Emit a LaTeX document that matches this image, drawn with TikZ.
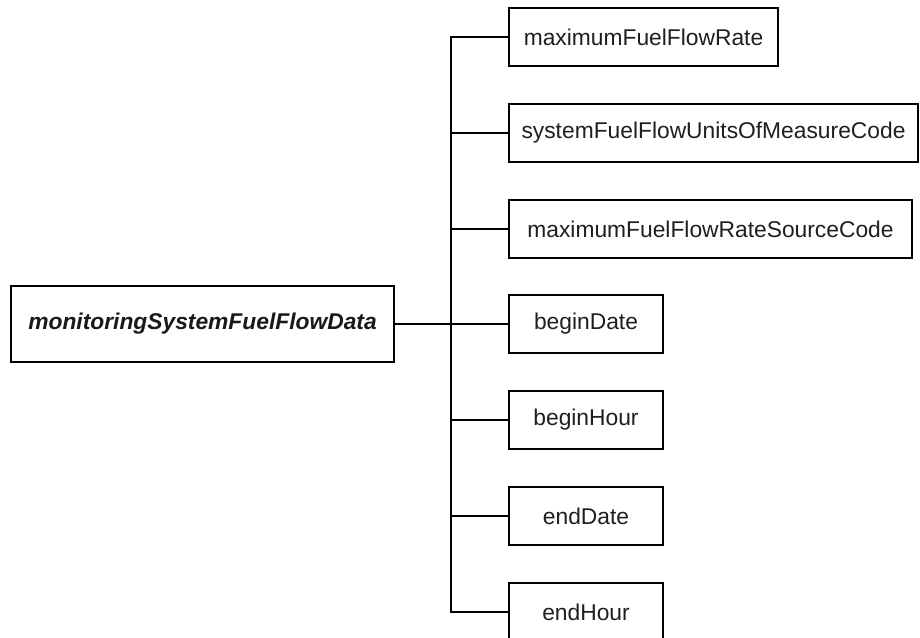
\documentclass[tikz,border=0pt]{standalone}
\usepackage{fontspec}
\setmainfont{Liberation Sans}
\begin{document}
\begin{tikzpicture}[x=1pt,y=-1pt,
  box/.style={draw=black,line width=2pt,fill=white,inner sep=0pt,anchor=west,
    minimum height=58pt,font=\fontsize{22.8}{27}\selectfont,text=black!88},
  rootbox/.style={draw=black,line width=2pt,fill=white,inner sep=0pt,
    minimum width=383pt,minimum height=76pt,
    font=\fontsize{22.8}{27}\selectfont\bfseries\itshape,text=black!90},
  wire/.style={draw=black,line width=2pt}]
\useasboundingbox (0,0) rectangle (920,637);
\clip (0,0) rectangle (920,637);
\fill[white] (0,0) rectangle (920,637);
\coordinate (bus) at (451,0);
\node[rootbox] (root) at (202.5,324) {monitoringSystemFuelFlowData};
\node[box,minimum width=269pt] (c1) at (508,37) {maximumFuelFlowRate};
\node[box,minimum width=409pt] (c2) at (508,133) {systemFuelFlowUnitsOfMeasureCode};
\node[box,minimum width=403pt] (c3) at (508,229) {maximumFuelFlowRateSourceCode};
\node[box,minimum width=154pt] (c4) at (508,324) {beginDate};
\node[box,minimum width=154pt] (c5) at (508,420) {beginHour};
\node[box,minimum width=154pt] (c6) at (508,516) {endDate};
\node[box,minimum width=154pt] (c7) at (508,612) {endHour};
\foreach \c in {c1,c2,c3,c4,c5,c6,c7}{
  \draw[wire] (root.east) -- (root.east -| bus) |- (\c.west);
}
\end{tikzpicture}
\end{document}
